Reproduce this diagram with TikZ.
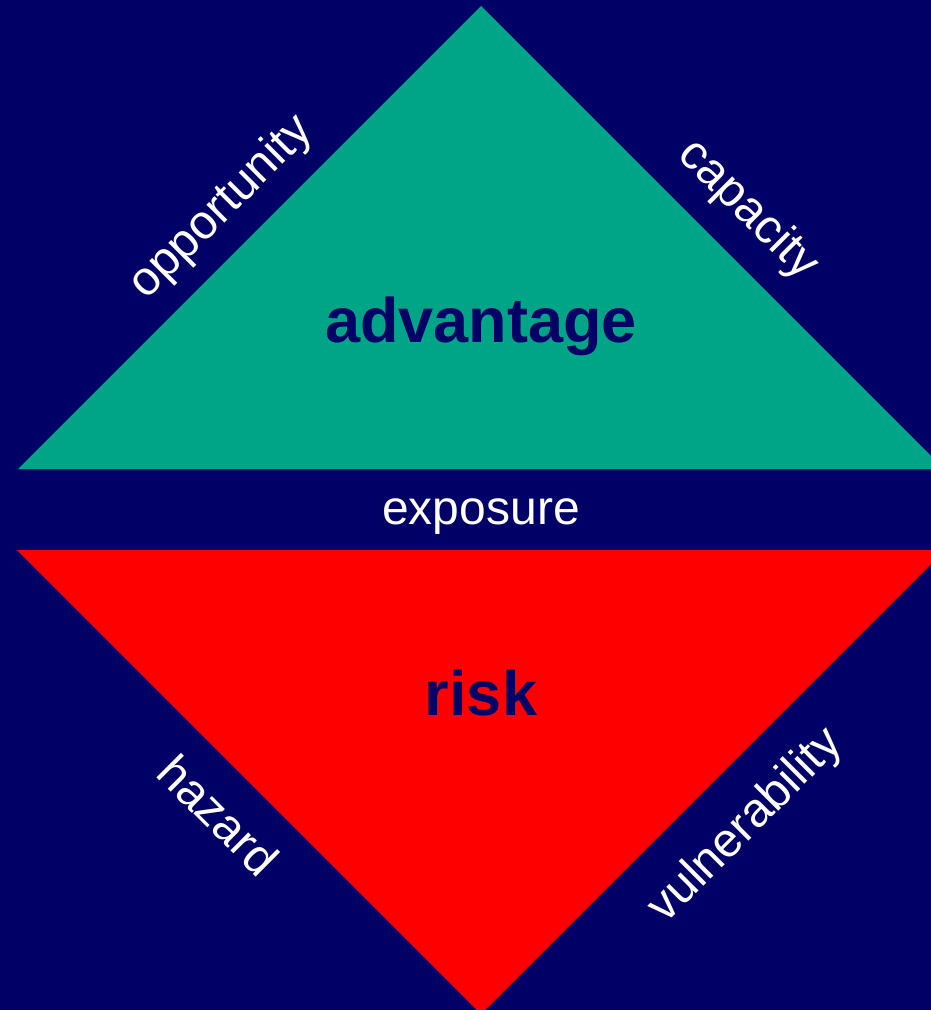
\documentclass[tikz,border=0pt]{standalone}
\usepackage{fontspec}
\setmainfont{Liberation Sans}
\definecolor{navy}{RGB}{0,0,102}
\definecolor{teal}{RGB}{0,165,135}
\definecolor{brightred}{RGB}{255,0,0}
\begin{document}
\begin{tikzpicture}[x=1pt,y=-1pt,
  lbl/.style={text=white,font=\fontsize{48}{56}\selectfont,inner sep=0pt},
  big/.style={text=navy,font=\fontsize{63}{74}\selectfont\bfseries,inner sep=0pt}]
\useasboundingbox (0,0) rectangle (931,1010);
\fill[navy] (0,0) rectangle (931,1010);
\clip (0,0) rectangle (931,1010);
\fill[teal] (481,6) -- (18,469) -- (944,469) -- cycle;
\fill[brightred] (17,550) -- (945,550) -- (481,1014) -- cycle;
\node[big,anchor=base] (adv) at (481,342) {advantage};
\node[big,anchor=base] (risk) at (481,715) {risk};
\node[lbl,anchor=base] (exp) at (481,524) {exposure};
\node[lbl,rotate=45] (opp) at (222,208) {opportunity};
\node[lbl,rotate=-45] (cap) at (748,210) {capacity};
\node[lbl,rotate=-45] (haz) at (219,815) {hazard};
\node[lbl,rotate=45] (vul) at (746,826) {vulnerability};
\end{tikzpicture}
\end{document}
